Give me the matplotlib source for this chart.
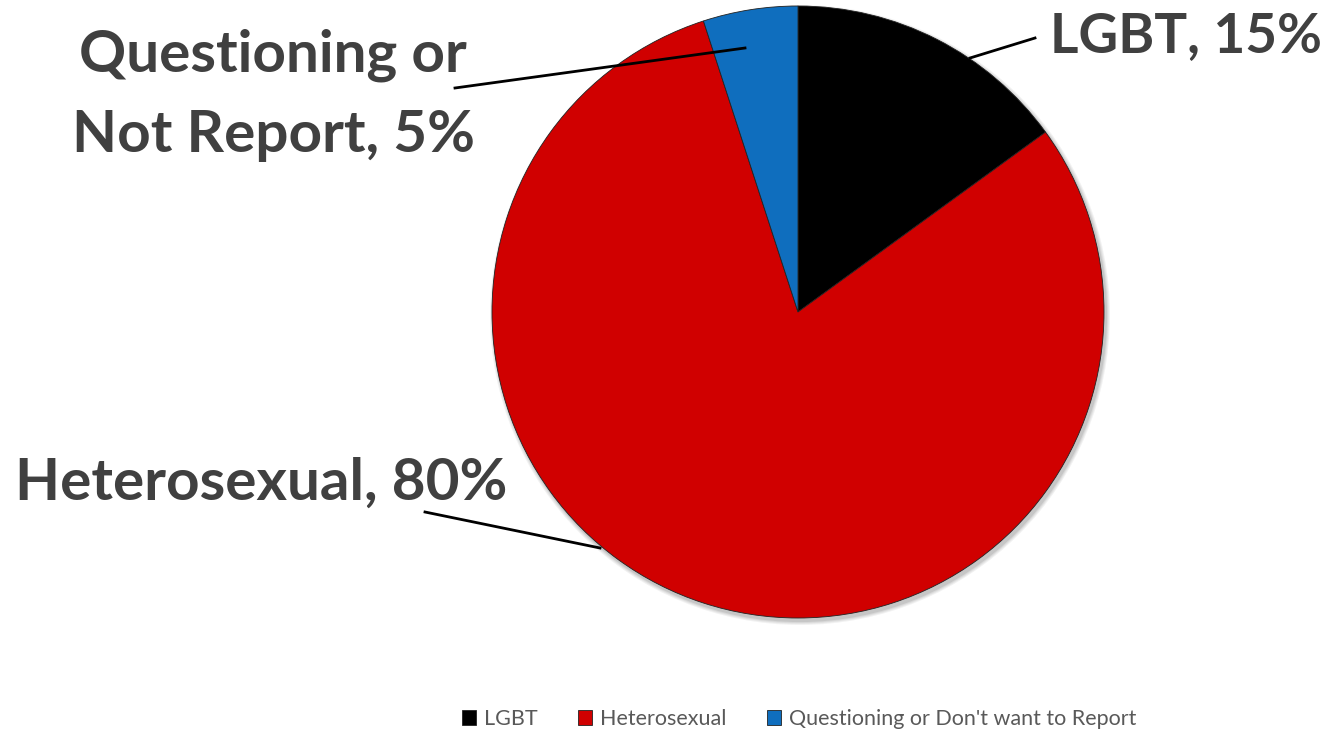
import matplotlib.pyplot as plt
from matplotlib.patches import Circle

# survey shares, clockwise from 12 o'clock
groups = ['LGBT', 'Heterosexual', "Questioning or Don't want to Report"]
shares = [15, 80, 5]
colors = ['#000000', '#D00000', '#0F6EBE']
callouts = ['LGBT, 15%', 'Heterosexual, 80%', 'Questioning or\nNot Report, 5%']

W, H = 1332, 736
fig = plt.figure(figsize=(W / 100, H / 100), dpi=100)
ax = fig.add_axes([0, 0, 1, 1])

cx, cy, r = 798, H - 312, 306

# soft drop shadow under the pie
for k, a in enumerate([0.05, 0.05, 0.06, 0.08]):
    ax.add_patch(Circle((cx + 2, cy - 3), r + 4 - k, color='#000000', alpha=a, lw=0, zorder=1))

wedges, _ = ax.pie(shares, colors=colors, startangle=90, counterclock=False,
                   center=(cx, cy), radius=r, frame=True,
                   wedgeprops=dict(edgecolor='#222222', linewidth=0.6, zorder=2))
ax.set_xlim(0, W)
ax.set_ylim(0, H)
ax.set_aspect('equal')
ax.axis('off')

lab_font = dict(family='Lato', weight='bold', color='#404040', fontsize=42)

# leader lines and labels
ax.plot([970, 1035], [H - 58, H - 38], color='k', lw=2, zorder=3)
ax.text(1322, H - 52, callouts[0], ha='right', va='baseline',
        **{**lab_font, 'fontsize': 39.5})

ax.plot([425, 600], [H - 512, H - 548], color='k', lw=2, zorder=3)
ax.text(15, H - 500, callouts[1], ha='left', va='baseline', **lab_font)

q1, q2 = callouts[2].split('\n')
ax.plot([455, 745], [H - 88, H - 48], color='k', lw=2, zorder=3)
ax.text(273, H - 72, q1, ha='center', va='baseline', **lab_font)
ax.text(273, H - 152, q2, ha='center', va='baseline', **lab_font)

leg = fig.legend(wedges, groups, loc='center', bbox_to_anchor=(799 / W, 1 - 719 / H),
                 ncol=3, frameon=False, handlelength=0.65, handleheight=0.65,
                 handletextpad=0.35, columnspacing=1.9,
                 prop=dict(family='Lato', size=15.5))
for t in leg.get_texts():
    t.set_color('#595959')

fig.savefig('out.png', dpi=100)
